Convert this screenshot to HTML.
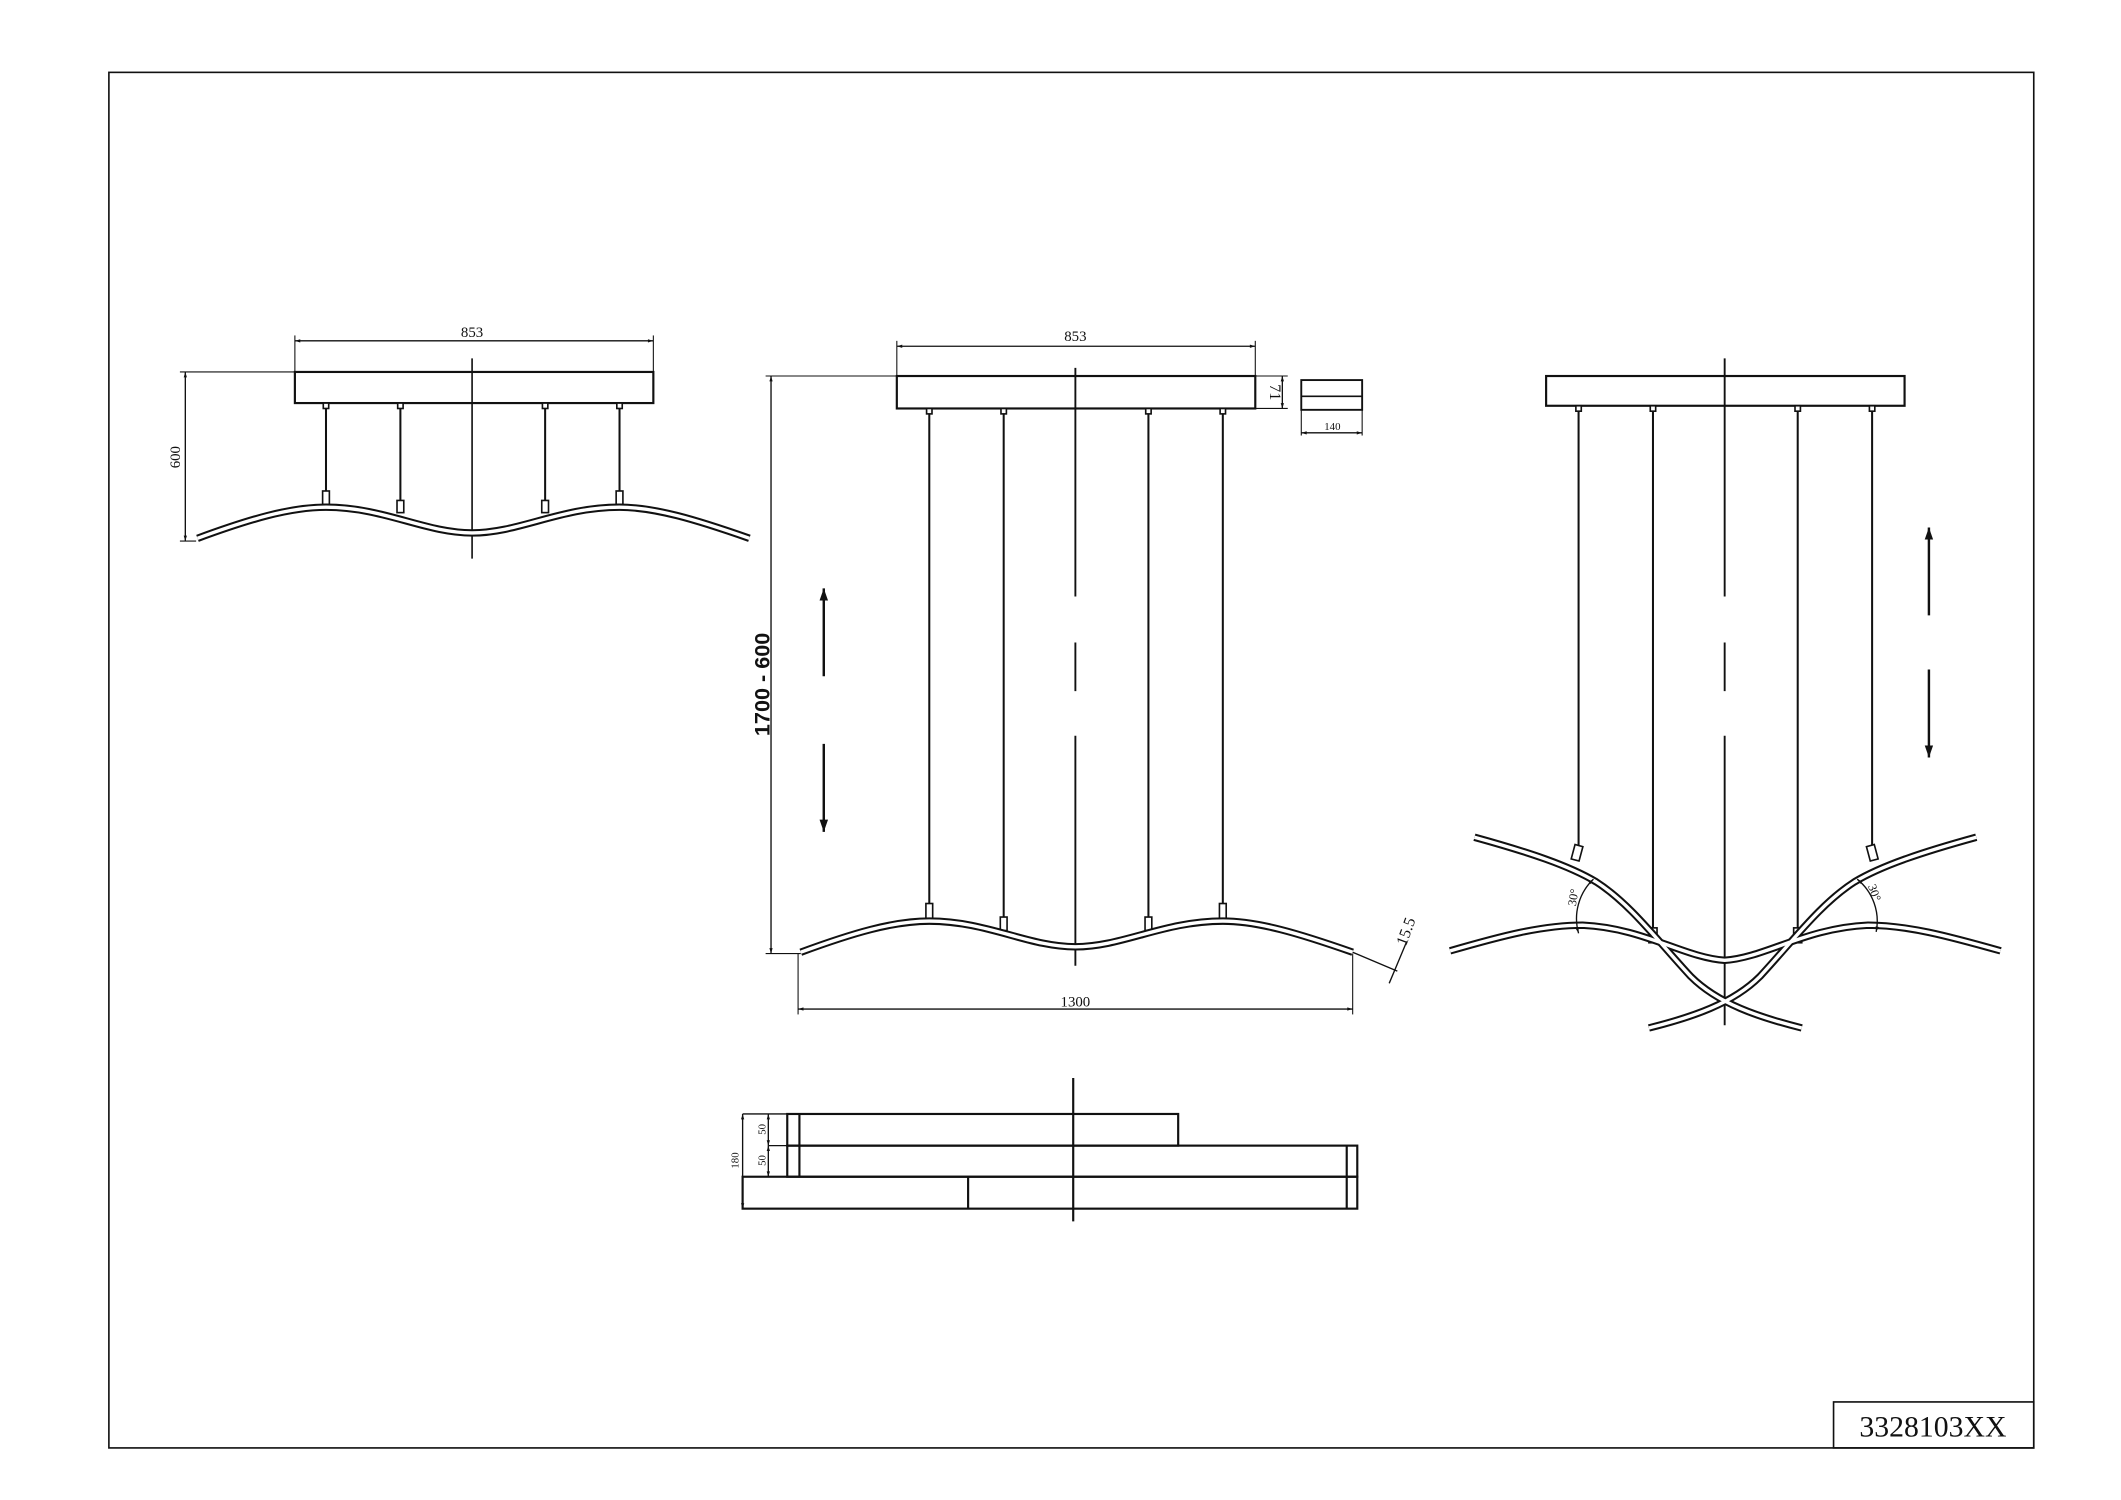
<!DOCTYPE html>
<html><head><meta charset="utf-8"><style>html,body{margin:0;padding:0;background:#fff}svg{display:block}</style></head>
<body>
<svg width="2121" height="1500" viewBox="0 0 1568 1109" preserveAspectRatio="none" xmlns="http://www.w3.org/2000/svg">
<defs>
<marker id="a" viewBox="0 0 10 10" refX="10" refY="5" markerWidth="6" markerHeight="4" orient="auto-start-reverse"><path d="M0 2L10 5L0 8z" fill="#111"/></marker>
<marker id="b" viewBox="0 0 10 10" refX="10" refY="5" markerWidth="5" markerHeight="5" orient="auto" markerUnits="strokeWidth"><path d="M0 1.5L10 5L0 8.5z" fill="#111"/></marker>
</defs>
<rect x="0" y="0" width="1568" height="1109" fill="#fff"/>
<g fill="none" stroke="#111" stroke-width="1.2">
<rect x="80.5" y="53.5" width="1423" height="1017"/>
<rect x="1355.5" y="1036.5" width="148" height="34"/>
</g>
<text x="1429" y="1062" font-family="Liberation Serif, serif" font-size="22" text-anchor="middle" fill="#111">3328103XX</text>

<!-- LEFT VIEW -->
<g stroke="#111" fill="none">
<rect x="218" y="275" width="265" height="23" stroke-width="1.6"/>
<line x1="218" y1="252" x2="483" y2="252" stroke-width="1" marker-start="url(#a)" marker-end="url(#a)"/>
<line x1="218" y1="248" x2="218" y2="275" stroke-width="0.8"/>
<line x1="483" y1="248" x2="483" y2="275" stroke-width="0.8"/>
<line x1="349" y1="265" x2="349" y2="413" stroke-width="1.2"/>
<line x1="137" y1="275" x2="137" y2="400" stroke-width="1" marker-start="url(#a)" marker-end="url(#a)"/>
<line x1="133" y1="275" x2="218" y2="275" stroke-width="0.8"/>
<line x1="133" y1="400" x2="145" y2="400" stroke-width="0.8"/>
<g stroke-width="1.5">
<line x1="241" y1="298" x2="241" y2="364"/><line x1="296" y1="298" x2="296" y2="371"/>
<line x1="403" y1="298" x2="403" y2="371"/><line x1="458" y1="298" x2="458" y2="364"/>
</g>
<g stroke-width="1.2" fill="#fff">
<rect x="239" y="298" width="4" height="4"/><rect x="294" y="298" width="4" height="4"/><rect x="401" y="298" width="4" height="4"/><rect x="456" y="298" width="4" height="4"/>
<rect x="238.5" y="363" width="5" height="10"/><rect x="293.5" y="370" width="5" height="9"/><rect x="400.5" y="370" width="5" height="9"/><rect x="455.5" y="363" width="5" height="10"/>
</g>
<g transform="translate(-446,-306)">
<path d="M592 704 C630 690,660 681,687 681 C730 681,760 700,795 700 C830 700,860 681,904 681 C930 681,960 690,1000 704" stroke-width="5.5"/>
<path d="M592 704 C630 690,660 681,687 681 C730 681,760 700,795 700 C830 700,860 681,904 681 C930 681,960 690,1000 704" stroke="#fff" stroke-width="2.5"/>
</g>
</g>
<g font-family="Liberation Serif, serif" font-size="11" fill="#111" text-anchor="middle">
<text x="349" y="249">853</text>
<text transform="translate(133,338) rotate(-90)">600</text>
<text x="795" y="252">853</text>
<text x="795" y="744">1300</text>
<text x="985" y="318" font-size="8">140</text>
<text transform="translate(939,290) rotate(90)" font-size="12">71</text>
<text transform="translate(1043,690) rotate(-70)" font-size="12">15.5</text>
</g>

<!-- MIDDLE VIEW -->
<g stroke="#111" fill="none">
<rect x="663" y="278" width="265" height="24" stroke-width="1.6"/>
<line x1="663" y1="256" x2="928" y2="256" stroke-width="1" marker-start="url(#a)" marker-end="url(#a)"/>
<line x1="663" y1="252" x2="663" y2="278" stroke-width="0.8"/>
<line x1="928" y1="252" x2="928" y2="278" stroke-width="0.8"/>
<line x1="948" y1="278" x2="948" y2="302" stroke-width="1" marker-start="url(#a)" marker-end="url(#a)"/>
<line x1="928" y1="278" x2="952" y2="278" stroke-width="0.8"/>
<line x1="928" y1="302" x2="952" y2="302" stroke-width="0.8"/>
<rect x="962" y="281" width="45" height="22" stroke-width="1.4"/>
<line x1="962" y1="293" x2="1007" y2="293" stroke-width="1.2"/>
<line x1="962" y1="320" x2="1007" y2="320" stroke-width="1" marker-start="url(#a)" marker-end="url(#a)"/>
<line x1="962" y1="303" x2="962" y2="322" stroke-width="0.8"/>
<line x1="1007" y1="303" x2="1007" y2="322" stroke-width="0.8"/>
<path d="M795 272V441M795 475V511M795 544V714" stroke-width="1.4"/>
<line x1="570" y1="278" x2="570" y2="705" stroke-width="1" marker-start="url(#a)" marker-end="url(#a)"/>
<line x1="566" y1="278" x2="663" y2="278" stroke-width="0.8"/>
<line x1="566" y1="705" x2="592" y2="705" stroke-width="0.8"/>
<g stroke-width="1.5">
<line x1="687" y1="302" x2="687" y2="668"/><line x1="742" y1="302" x2="742" y2="678"/>
<line x1="849" y1="302" x2="849" y2="678"/><line x1="904" y1="302" x2="904" y2="668"/>
</g>
<g stroke-width="1.2" fill="#fff">
<rect x="685" y="302" width="4" height="4"/><rect x="740" y="302" width="4" height="4"/><rect x="847" y="302" width="4" height="4"/><rect x="902" y="302" width="4" height="4"/>
<rect x="684.5" y="668" width="5" height="12"/><rect x="739.5" y="678" width="5" height="10"/><rect x="846.5" y="678" width="5" height="10"/><rect x="901.5" y="668" width="5" height="12"/>
</g>
<path d="M592 704 C630 690,660 681,687 681 C730 681,760 700,795 700 C830 700,860 681,904 681 C930 681,960 690,1000 704" stroke-width="5.5"/>
<path d="M592 704 C630 690,660 681,687 681 C730 681,760 700,795 700 C830 700,860 681,904 681 C930 681,960 690,1000 704" stroke="#fff" stroke-width="2.5"/>
<line x1="1000" y1="704" x2="1033" y2="718" stroke-width="1"/>
<line x1="1027" y1="727" x2="1040" y2="696" stroke-width="1"/>
<line x1="590" y1="705" x2="590" y2="750" stroke-width="0.8"/>
<line x1="1000" y1="705" x2="1000" y2="750" stroke-width="0.8"/>
<line x1="590" y1="746" x2="1000" y2="746" stroke-width="1" marker-start="url(#a)" marker-end="url(#a)"/>
<line x1="609" y1="500" x2="609" y2="435" stroke-width="1.8" marker-end="url(#b)"/>
<line x1="609" y1="550" x2="609" y2="615" stroke-width="1.8" marker-end="url(#b)"/>
</g>
<text transform="translate(569,506) rotate(-90)" font-family="Liberation Sans, sans-serif" font-weight="bold" font-size="16" text-anchor="middle" fill="#111">1700 - 600</text>

<!-- RIGHT VIEW -->
<g stroke="#111" fill="none">
<rect x="1143" y="278" width="265" height="22" stroke-width="1.6"/>
<path d="M1275 265V441M1275 475V511M1275 544V758" stroke-width="1.4"/>
<g stroke-width="1.5">
<line x1="1167" y1="300" x2="1167" y2="626"/><line x1="1222" y1="300" x2="1222" y2="686"/>
<line x1="1329" y1="300" x2="1329" y2="686"/><line x1="1384" y1="300" x2="1384" y2="626"/>
</g>
<g stroke-width="1.2" fill="#fff">
<rect x="1165" y="300" width="4" height="4"/><rect x="1220" y="300" width="4" height="4"/><rect x="1327" y="300" width="4" height="4"/><rect x="1382" y="300" width="4" height="4"/>
<rect x="1163" y="625" width="6" height="11" transform="rotate(15 1166 630)"/><rect x="1381" y="625" width="6" height="11" transform="rotate(-15 1384 630)"/>
<rect x="1219" y="686" width="6" height="11"/><rect x="1326" y="686" width="6" height="11"/>
</g>
<g id="tubes">
<path d="M1090 619 C1130 630,1160 640,1180 652 C1205 668,1225 695,1250 722 C1270 742,1300 752,1332 760"/>
<path d="M1461 619 C1421 630,1391 640,1371 652 C1346 668,1326 695,1301 722 C1281 742,1251 752,1219 760"/>
<path d="M1072 703 C1110 692,1140 684,1170 684 C1215 686,1245 708,1275 710 C1305 708,1335 686,1381 684 C1410 684,1440 692,1479 703"/>
</g>
<g stroke-width="5.5"><use href="#tubes"/></g>
<g stroke="#fff" stroke-width="2.5"><use href="#tubes"/></g>
<path d="M1178 650 A 40 40 0 0 0 1167 690" stroke-width="1" marker-start="url(#a)" marker-end="url(#a)"/>
<path d="M1373 650 A 40 40 0 0 1 1387 689" stroke-width="1" marker-start="url(#a)" marker-end="url(#a)"/>
<line x1="1426" y1="455" x2="1426" y2="390" stroke-width="1.8" marker-end="url(#b)"/>
<line x1="1426" y1="495" x2="1426" y2="560" stroke-width="1.8" marker-end="url(#b)"/>
</g>
<g font-family="Liberation Serif, serif" font-size="9" fill="#111" text-anchor="middle">
<text transform="translate(1166,664) rotate(-80)">30°</text>
<text transform="translate(1383,661) rotate(70)">30°</text>
</g>

<!-- BOTTOM VIEW -->
<g stroke="#111" fill="none" stroke-width="1.6">
<rect x="582" y="823.6" width="289" height="23.4"/>
<line x1="591" y1="823.6" x2="591" y2="870"/>
<rect x="582" y="847" width="421.4" height="23"/>
<line x1="995.6" y1="847" x2="995.6" y2="893.6"/>
<rect x="549" y="870" width="454.4" height="23.6"/>
<line x1="715.7" y1="870" x2="715.7" y2="893.6"/>
<line x1="549" y1="823.6" x2="582" y2="823.6" stroke-width="1"/>
<line x1="568" y1="847" x2="582" y2="847" stroke-width="1"/>
<line x1="793.4" y1="797" x2="793.4" y2="903"/>
<line x1="549" y1="823.6" x2="549" y2="893.6" stroke-width="1" marker-start="url(#a)" marker-end="url(#a)"/>
<line x1="568" y1="823.6" x2="568" y2="847" stroke-width="1" marker-start="url(#a)" marker-end="url(#a)"/>
<line x1="568" y1="847" x2="568" y2="870" stroke-width="1" marker-start="url(#a)" marker-end="url(#a)"/>
</g>
<g font-family="Liberation Serif, serif" font-size="8" fill="#111" text-anchor="middle">
<text transform="translate(546,858) rotate(-90)">180</text>
<text transform="translate(566,835) rotate(-90)">50</text>
<text transform="translate(566,858) rotate(-90)">50</text>
</g>
</svg>
</body></html>
